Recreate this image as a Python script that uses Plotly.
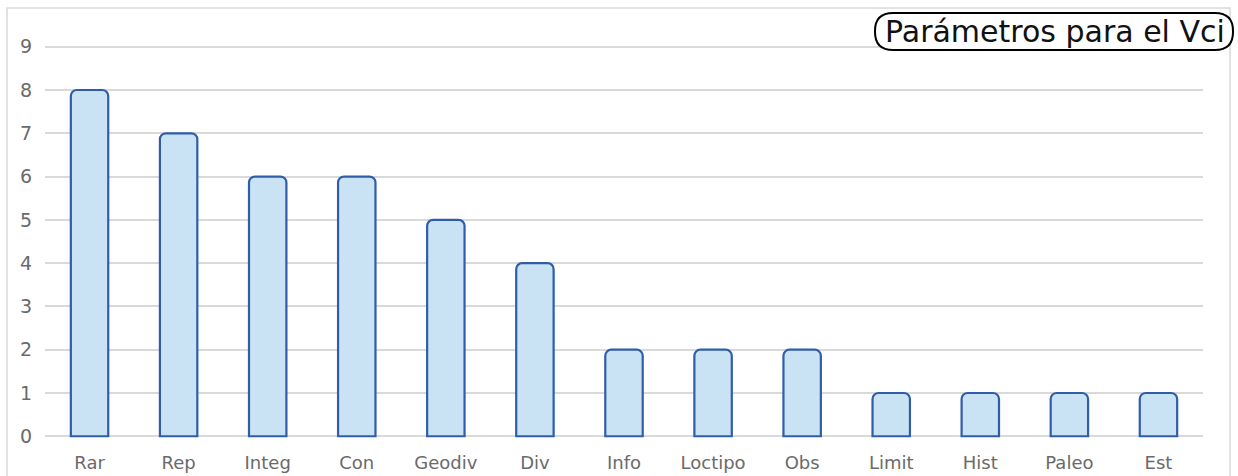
import plotly.graph_objects as go

# Parameter counts
categories = ["Rar", "Rep", "Integ", "Con", "Geodiv", "Div", "Info",
              "Loctipo", "Obs", "Limit", "Hist", "Paleo", "Est"]
values = [8, 7, 6, 6, 5, 4, 2, 2, 2, 1, 1, 1, 1]
y_ticks = list(range(0, 10))
title_text = "Parámetros para el Vci"

W, H = 1238, 476
L, R, T, B = 45, 35, 45, 38
PW, PH = W - L - R, H - T - B

def px(x):
    return (x - L) / PW

def py(y):
    return (H - B - y) / PH

def rounded_rect(x0, y0, x1, y1, r):
    # pixel box -> paper-space SVG path with rounded corners
    rx, ry = r / PW, r / PH
    a, b, c, d = px(x0), px(x1), py(y0), py(y1)  # c top, d bottom
    return (f"M {a+rx},{c} L {b-rx},{c} Q {b},{c} {b},{c-ry} "
            f"L {b},{d+ry} Q {b},{d} {b-rx},{d} L {a+rx},{d} "
            f"Q {a},{d} {a},{d+ry} L {a},{c-ry} Q {a},{c} {a+rx},{c} Z")

fig = go.Figure(go.Bar(
    x=categories, y=values,
    marker=dict(color="#C9E3F4", line=dict(color="#2F5DAA", width=2.2),
                cornerradius=6),
    width=0.42,
))

FONT = "DejaVu Sans"
fig.update_layout(
    width=W, height=H,
    margin=dict(l=L, r=R, t=T, b=B, autoexpand=False),
    paper_bgcolor="white", plot_bgcolor="white",
    showlegend=False,
    font=dict(family=FONT, color="#595959", size=18),
    xaxis=dict(showgrid=False, showline=False, ticks="", zeroline=False,
               tickfont=dict(family=FONT, size=18, color="#6a6a6a"),
               ticklabelstandoff=12, automargin=False),
    yaxis=dict(range=[-0.04, 9.04], tickvals=y_ticks, showgrid=True,
               gridcolor="#D9D9D9", gridwidth=1.5, zeroline=False,
               showline=False, ticks="", ticklabelstandoff=12,
               tickfont=dict(family=FONT, size=19, color="#6a6a6a"),
               automargin=False),
    shapes=[
        dict(type="rect", xref="paper", yref="paper",
             x0=px(7), x1=px(1230), y0=py(480), y1=py(8),
             line=dict(color="#D9D9D9", width=1.5), layer="below"),
        dict(type="path", xref="paper", yref="paper",
             path=rounded_rect(875, 13, 1233, 50, 18),
             line=dict(color="black", width=2), fillcolor="white"),
    ],
    annotations=[
        dict(text=title_text, xref="paper", yref="paper",
             x=px(1055), y=py(32), xanchor="center", yanchor="middle",
             showarrow=False,
             font=dict(family=FONT, size=30, color="#111111")),
    ],
)

fig.write_html("out.html")
